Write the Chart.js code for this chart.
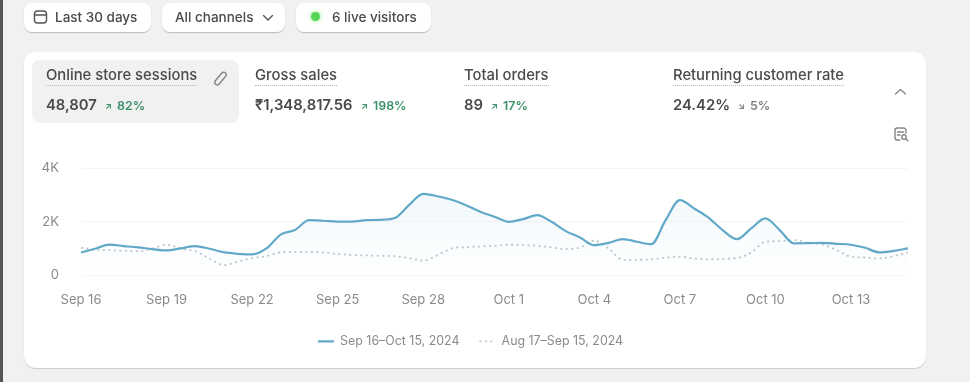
<!DOCTYPE html>
<html>
<head>
<meta charset="utf-8">
<script src="https://cdn.jsdelivr.net/npm/chart.js@4"></script>
<style>
html, body { margin: 0; padding: 0; }
body { width: 970px; height: 382px; overflow: hidden; background: #f1f1f1; position: relative;
  font-family: Inter, "Noto Sans", sans-serif; color: #303030; filter: blur(0.5px); }
.abs { position: absolute; white-space: nowrap; }
#strip { left: 0; top: 0; width: 3px; height: 382px; background: #555; }
.pill { top: 3px; height: 29px; background: #fff; border-radius: 8px; box-shadow: 0 1px 1px rgba(0,0,0,.22); }
.pilltext { top: 9px; font-size: 13.5px; line-height: 16px; font-weight: 500; color: #4a4a4a; }
#card { left: 24px; top: 52px; width: 902px; height: 316px; background: #fff; border-radius: 12px; box-shadow: 0 1px 1px rgba(0,0,0,.16); }
#hilite { left: 32px; top: 60px; width: 207px; height: 63px; background: #f1f1f1; border-radius: 8px; }
.mname { top: 66.5px; font-size: 14.8px; line-height: 17px; font-weight: 500; color: #4a4a4a; border-bottom: 1px dotted #b5b5b5; padding-bottom: 1px; }
.mval { top: 97px; font-size: 14.8px; line-height: 17px; font-weight: 600; color: #4a4a4a; }
.mdelta { top: 98px; font-size: 12.4px; line-height: 16px; font-weight: 600; }
.mdelta span { display: inline-block; width: 12px; font-size: 9px; font-weight: 700; vertical-align: 1px; }
svg.abs { fill: none; stroke: #858585; stroke-width: 1.4; stroke-linecap: round; stroke-linejoin: round; }
#wrap { left: 24px; top: 150px; width: 902px; height: 210px; }
</style>
</head>
<body>
<div class="abs" id="strip"></div>
<div class="abs pill" style="left:24px;width:127px"></div>
<div class="abs pill" style="left:162px;width:123px"></div>
<div class="abs pill" style="left:296px;width:135px"></div>
<svg class="abs" style="left:33px;top:9px;stroke:#555" width="15" height="16" viewBox="0 0 15 16"><rect x="1.500" y="2" width="12" height="12" rx="3"/><path d="M1.500 6h12"/></svg>
<div class="abs pilltext" style="left:55px">Last 30 days</div>
<div class="abs pilltext" style="left:175px">All channels</div>
<svg class="abs" style="left:261px;top:13px;stroke:#555" width="14" height="10" viewBox="0 0 14 10"><path d="M2.500 2.500L7 7l4.500-4.500"/></svg>
<div class="abs" style="left:311px;top:12px;width:9px;height:9px;border-radius:50%;background:#55d655;box-shadow:0 0 4px #7fe87f"></div>
<div class="abs pilltext" style="left:332px">6 live visitors</div>

<div class="abs" id="card"></div>
<div class="abs" id="hilite"></div>
<div id="metrics"></div>
<svg class="abs" style="left:212px;top:70px" width="17" height="17" viewBox="0 0 17 17"><rect x="6" y="1" width="5" height="15" rx="2.500" transform="rotate(40 8.500 8.500)"/></svg>
<svg class="abs" style="left:893px;top:86px" width="15" height="12" viewBox="0 0 15 12"><path d="M2.500 8L7.500 3.500 12.500 8"/></svg>
<svg class="abs" style="left:893px;top:126px" width="17" height="17" viewBox="0 0 17 17"><path d="M7 14H4.500A2.500 2.500 0 0 1 2 11.500v-7A2.500 2.500 0 0 1 4.500 2h6A2.500 2.500 0 0 1 13 4.500V7M4.500 6h6M4.500 9H7"/><circle cx="11" cy="11" r="2.200"/><path d="M12.800 12.800L15 15"/></svg>

<div class="abs" id="wrap"><canvas id="chart"></canvas></div>

<script>
const dayLabels = [
    'Sep 16', 'Sep 17', 'Sep 18', 'Sep 19', 'Sep 20', 'Sep 21', 'Sep 22', 'Sep 23', 'Sep 24', 'Sep 25',
    'Sep 26', 'Sep 27', 'Sep 28', 'Sep 29', 'Sep 30', 'Oct 1', 'Oct 2', 'Oct 3', 'Oct 4', 'Oct 5',
    'Oct 6', 'Oct 7', 'Oct 8', 'Oct 9', 'Oct 10', 'Oct 11', 'Oct 12', 'Oct 13', 'Oct 14', 'Oct 15'
];
// every half day, so 59 samples per series
const currentSessions = [
    850, 990, 1140, 1090, 1040, 975, 925, 1000, 1090, 990,
    860, 800, 775, 1000, 1520, 1690, 2060, 2040, 2010, 2010,
    2060, 2075, 2140, 2625, 3050, 2960, 2825, 2625, 2375, 2190,
    2000, 2100, 2250, 2000, 1650, 1410, 1125, 1210, 1350, 1250,
    1160, 2060, 2810, 2500, 2160, 1690, 1350, 1750, 2125, 1690,
    1190, 1200, 1210, 1175, 1140, 1025, 850, 910, 1000
];
const previousSessions = [
    1025, 960, 940, 910, 900, 1000, 1140, 1000, 900, 625,
    375, 500, 640, 710, 860, 875, 875, 850, 790, 760,
    740, 725, 710, 640, 540, 750, 1000, 1050, 1075, 1100,
    1140, 1125, 1100, 1040, 975, 1040, 1290, 1000, 575, 575,
    590, 650, 690, 625, 590, 610, 640, 850, 1250, 1275,
    1310, 1210, 1140, 940, 690, 660, 625, 710, 850
];
const yTicks = [0, 2000, 4000];
const yTickLabels = ['0', '2K', '4K'];
const legendLabels = ['Sep 16–Oct 15, 2024', 'Aug 17–Sep 15, 2024'];

const metricNames = ['Online store sessions', 'Gross sales', 'Total orders', 'Returning customer rate'];
const metricValues = ['48,807', '₹1,348,817.56', '89', '24.42%'];
const metricArrows = ['↗', '↗', '↗', '↘'];
const metricDeltas = ['82%', '198%', '17%', '5%'];
const metricLefts = [46, 255, 464, 673];
const deltaLefts = [105, 361, 491, 738];
const deltaColors = ['#3a9068', '#3a9068', '#3a9068', '#808080'];

const metrics = document.getElementById('metrics');
metricNames.forEach((name, i) => {
    metrics.insertAdjacentHTML('beforeend',
        `<div class="abs mname" style="left:${metricLefts[i]}px">${name}</div>` +
        `<div class="abs mval" style="left:${metricLefts[i]}px">${metricValues[i]}</div>` +
        `<div class="abs mdelta" style="left:${deltaLefts[i]}px;color:${deltaColors[i]}"><span>${metricArrows[i]}</span>${metricDeltas[i]}</div>`);
});

function areaGradient(context) {
    const { ctx, chartArea } = context.chart;
    if (!chartArea) {
        return 'transparent';
    }
    const gradient = ctx.createLinearGradient(0, chartArea.top + 25, 0, chartArea.bottom);
    gradient.addColorStop(0, 'rgba(120,190,220,0.10)');
    gradient.addColorStop(1, 'rgba(120,190,220,0)');
    return gradient;
}

Chart.defaults.font.family = 'Inter, "Noto Sans", sans-serif';
Chart.defaults.font.size = 13;
Chart.defaults.color = '#8a8a8a';

new Chart(document.getElementById('chart'), {
    type: 'line',
    data: {
        labels: dayLabels.flatMap((day, i) => (i < dayLabels.length - 1 ? [day, `${day} noon`] : [day])),
        datasets: [
            {
                label: legendLabels[0],
                data: currentSessions,
                borderColor: '#62a9c9',
                borderWidth: 2.2,
                backgroundColor: areaGradient,
                fill: 'origin',
                pointRadius: 0,
                cubicInterpolationMode: 'monotone'
            },
            {
                label: legendLabels[1],
                data: previousSessions,
                borderColor: '#bcc6cc',
                borderWidth: 1.8,
                borderDash: [2, 3.5],
                fill: false,
                pointRadius: 0,
                cubicInterpolationMode: 'monotone'
            }
        ]
    },
    options: {
        responsive: true,
        maintainAspectRatio: false,
        animation: false,
        layout: { padding: { top: 18.5, right: 18, left: 9, bottom: 2.5 } },
        plugins: {
            tooltip: { enabled: false },
            legend: {
                position: 'bottom',
                labels: {
                    usePointStyle: true,
                    pointStyle: 'line',
                    pointStyleWidth: 16,
                    boxHeight: 12,
                    padding: 20,
                    font: { size: 12.4 },
                    color: '#8a8a8a',
                    generateLabels: c => Chart.defaults.plugins.legend.labels.generateLabels(c)
                        .map((item, i) => ({
                            ...item,
                            lineDash: c.data.datasets[i].borderDash || [],
                            lineWidth: c.data.datasets[i].borderWidth,
                            strokeStyle: c.data.datasets[i].borderColor
                        }))
                }
            }
        },
        scales: {
            x: {
                border: { display: false },
                grid: { display: false, drawTicks: false },
                afterFit: scale => { scale.height = 40; },
                ticks: {
                    autoSkip: false,
                    maxRotation: 0,
                    padding: 17,
                    callback: (value, index) => (index % 6 === 0 ? dayLabels[index / 2] : '')
                }
            },
            y: {
                min: 0,
                max: 4000,
                border: { display: false },
                grid: { color: '#f5f5f5', drawTicks: false },
                // tick padding also counts as vertical margin in fit(), drop it
                afterFit: scale => {
                    scale.width = 48;
                    scale.paddingTop = 0;
                    scale.paddingBottom = 0;
                },
                afterBuildTicks: scale => { scale.ticks = yTicks.map(value => ({ value })); },
                ticks: {
                    padding: 22,
                    callback: value => yTickLabels[yTicks.indexOf(value)]
                }
            }
        }
    }
});
</script>
</body>
</html>
